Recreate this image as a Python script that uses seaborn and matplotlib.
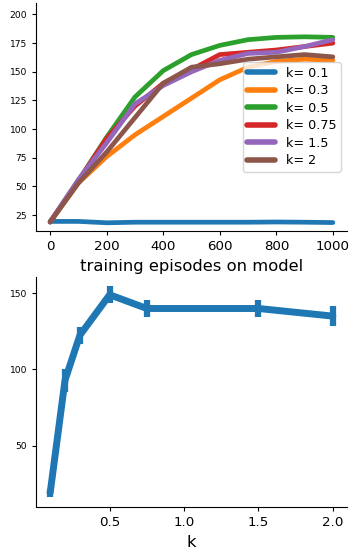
import numpy as np
import pandas as pd
import matplotlib
matplotlib.use("Agg")
import matplotlib.pyplot as plt
import seaborn as sns

# top panel: reward vs training episodes, one curve per k
episodes = [0, 100, 200, 300, 400, 500, 600, 700, 800, 900, 1000]
k_labels = ["k= 0.1", "k= 0.3", "k= 0.5", "k= 0.75", "k= 1.5", "k= 2"]
reward_k01 = [19.5, 19.5, 18.3, 18.8, 18.8, 18.8, 18.8, 18.8, 19.0, 18.8, 18.5]
reward_k03 = [19, 53, 76, 95, 111, 127, 143, 154, 159, 161, 160]
reward_k05 = [19, 55, 93, 128, 151, 165, 173, 178, 180, 180.5, 180]
reward_k075 = [19, 55, 92, 120, 140, 152, 165, 167, 169, 172, 175]
reward_k15 = [19, 56, 88, 122, 138, 150, 160, 166, 167, 172, 178]
reward_k2 = [19, 53, 80, 110, 140, 154, 157, 161, 163, 165, 163]

# bottom panel: final reward vs k with error bars
k_values = [0.1, 0.2, 0.3, 0.5, 0.75, 1.5, 2.0]
final_reward = [19, 93, 122.5, 149, 140, 140, 135]
final_err = [2.5, 7.5, 5.5, 5.5, 5.5, 5.5, 6.5]


def build_curves():
    series = [reward_k01, reward_k03, reward_k05, reward_k075, reward_k15, reward_k2]
    rows = []
    for label, vals in zip(k_labels, series):
        for ep, v in zip(episodes, vals):
            rows.append({"episode": ep, "reward": v, "k": label})
    return pd.DataFrame(rows)


def main():
    sns.set_style("ticks")
    plt.rcParams["font.family"] = ["DejaVu Sans"]
    for key in ["text.color", "axes.labelcolor", "xtick.color", "ytick.color", "axes.edgecolor"]:
        plt.rcParams[key] = "black"
    fig = plt.figure(figsize=(3.53, 5.53), dpi=100)
    ax1 = fig.add_axes([0.102, 0.582, 0.881, 0.4126])
    ax2 = fig.add_axes([0.102, 0.0832, 0.881, 0.416])

    df = build_curves()
    sns.lineplot(data=df, x="episode", y="reward", hue="k", hue_order=k_labels,
                 palette="tab10", linewidth=3.4, ax=ax1)
    ax1.set_ylim(11, 210)
    ax1.set_xlim(-50, 1050)
    ax1.set_yticks([25, 50, 75, 100, 125, 150, 175, 200])
    ax1.set_xticks([0, 200, 400, 600, 800, 1000])
    ax1.set_xlabel("training episodes on model", fontsize=11.8)
    ax1.set_ylabel("")
    ax1.tick_params(axis="y", labelsize=6.6, length=3)
    ax1.tick_params(axis="x", labelsize=9.6, length=3)
    leg = ax1.legend(loc="center right", fontsize=9.2, title=None,
                     handlelength=2.2, labelspacing=0.35, borderpad=0.35)
    for line in leg.get_lines():
        line.set_linewidth(4)

    sns.lineplot(x=k_values, y=final_reward, color="tab:blue", linewidth=5.0, ax=ax2)
    ax2.errorbar(k_values, final_reward, yerr=final_err, fmt="none",
                 ecolor="tab:blue", elinewidth=4.5, capsize=0)
    ax2.set_xlim(0.005, 2.095)
    ax2.set_ylim(9.8, 160.7)
    ax2.set_yticks([50, 100, 150])
    ax2.set_xticks([0.5, 1.0, 1.5, 2.0])
    ax2.set_xlabel("k", fontsize=11.8)
    ax2.tick_params(axis="y", labelsize=6.6, length=3)
    ax2.tick_params(axis="x", labelsize=9.6, length=3)

    sns.despine(fig=fig)
    fig.savefig("out.png", dpi=100)
    plt.close(fig)


if __name__ == "__main__":
    main()
